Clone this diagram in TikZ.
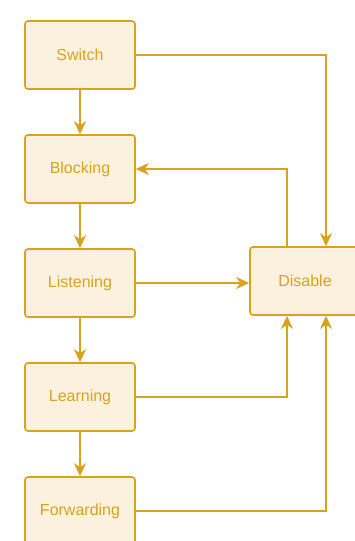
\documentclass[tikz,border=0pt]{standalone}
\usepackage{fontspec}
\setmainfont{Liberation Sans}
\usetikzlibrary{arrows.meta}
\definecolor{stk}{HTML}{D8A21E}
\definecolor{fil}{HTML}{FBF1DE}
\begin{document}
\begin{tikzpicture}[x=1pt,y=-1pt,
  statebox/.style={draw=stk,fill=fil,line width=1.6pt,rounded corners=3pt,
    minimum width=110pt,minimum height=68pt,inner sep=0pt,
    text=stk,font=\fontsize{16}{19}\selectfont},
  conn/.style={draw=stk,line width=1.8pt,
    -{Stealth[length=13pt,width=12pt,inset=4pt]}}]
\useasboundingbox (0,0) rectangle (355,541);
\node[statebox] (sw) at (80,55) {Switch};
\node[statebox] (bl) at (80,169) {Blocking};
\node[statebox] (li) at (80,283) {Listening};
\node[statebox] (le) at (80,397) {Learning};
\node[statebox] (fw) at (80,511) {Forwarding};
\node[statebox] (di) at (305,281) {Disable};
\draw[conn] (sw) -- (bl);
\draw[conn] (bl) -- (li);
\draw[conn] (li) -- (le);
\draw[conn] (le) -- (fw);
\draw[conn] (sw.east) -| ([xshift=21pt]di.north);
\draw[conn] ([xshift=-18pt]di.north) |- (bl.east);
\draw[conn] (li.east) -- (li.east -| di.west);
\draw[conn] (le.east) -| ([xshift=-18pt]di.south);
\draw[conn] (fw.east) -| ([xshift=21pt]di.south);
\end{tikzpicture}
\end{document}
